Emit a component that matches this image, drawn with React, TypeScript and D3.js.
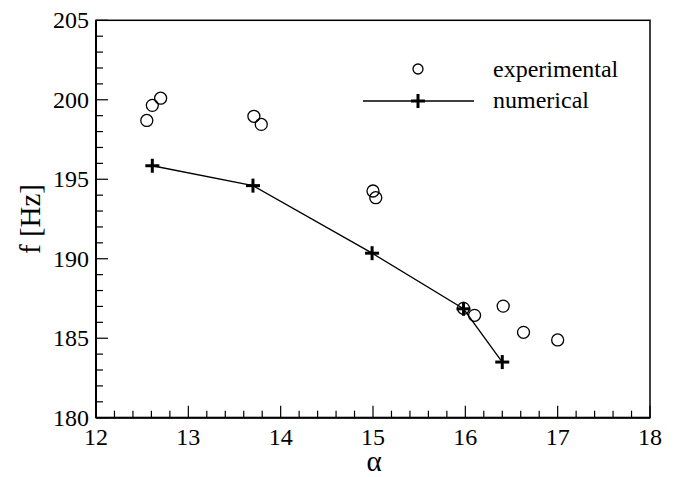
import React from "react";
import * as d3 from "d3";

const expAlpha = [12.55, 12.61, 12.70, 13.71, 13.79, 15.00, 15.03, 15.98, 16.10, 16.41, 16.63, 17.00];
const expF = [198.7, 199.65, 200.1, 198.96, 198.45, 194.26, 193.84, 186.88, 186.44, 187.02, 185.37, 184.89];
const numAlpha = [12.61, 13.70, 14.99, 15.98, 16.40];
const numF = [195.85, 194.6, 190.35, 186.85, 183.5];
const xTicks = [12, 13, 14, 15, 16, 17, 18];
const yTicks = [180, 185, 190, 195, 200, 205];

const FONT = '"Liberation Serif", "DejaVu Serif", "Times New Roman", Times, serif';

export default function App() {
  const W = 675, H = 477;
  const x = d3.scaleLinear().domain([12, 18]).range([96, 650]);
  const y = d3.scaleLinear().domain([180, 205]).range([417.7, 20.3]);
  const xMinor = d3.range(12, 18.001, 0.2).map((v) => +v.toFixed(2));
  const yMinor = d3.range(180, 205.001, 1);
  const line = d3.line<number>().x((_, i) => x(numAlpha[i])).y((d) => y(d));
  const ts = { fontFamily: FONT, fill: "#000" } as React.CSSProperties;

  const cross = (cx: number, cy: number, k: string) => (
    <g key={k}>
      <line x1={cx - 7} x2={cx + 7} y1={cy} y2={cy} stroke="#000" strokeWidth={3} />
      <line x1={cx} x2={cx} y1={cy - 7} y2={cy + 7} stroke="#000" strokeWidth={3} />
    </g>
  );

  return (
    <svg width={W} height={H} style={{ position: "absolute", left: 0, top: 0 }}>
      <rect width={W} height={H} fill="#fff" />
      <rect x={x(12)} y={y(205)} width={x(18) - x(12)} height={y(180) - y(205)} fill="none" stroke="#000" strokeWidth={1.5} />
      <line x1={x(12)} x2={x(12)} y1={y(205)} y2={y(180)} stroke="#000" strokeWidth={2} />
      <line x1={x(12)} x2={x(18)} y1={y(180)} y2={y(180)} stroke="#000" strokeWidth={2} />
      {xMinor.map((v, i) => {
        const major = Math.abs(v - Math.round(v)) < 1e-6;
        return <line key={"xt" + i} x1={x(v)} x2={x(v)} y1={y(180)} y2={y(180) - (major ? 12 : 7)} stroke="#000" strokeWidth={1.2} />;
      })}
      {yMinor.map((v, i) => {
        const major = v % 5 === 0;
        return <line key={"yt" + i} x1={x(12)} x2={x(12) + (major ? 12 : 7)} y1={y(v)} y2={y(v)} stroke="#000" strokeWidth={1.2} />;
      })}
      {xTicks.map((v) => (
        <text key={"xl" + v} x={x(v)} y={445} textAnchor="middle" style={ts} fontSize={24}>{v}</text>
      ))}
      {yTicks.map((v) => (
        <text key={"yl" + v} x={89} y={y(v) + 8} textAnchor="end" style={ts} fontSize={24}>{v}</text>
      ))}
      <text x={374} y={471} textAnchor="middle" style={ts} fontSize={29}>α</text>
      <text transform="translate(40,219) rotate(-90)" textAnchor="middle" style={ts} fontSize={29}>f [Hz]</text>
      <path d={line(numF) || ""} fill="none" stroke="#000" strokeWidth={1.3} />
      {numAlpha.map((a, i) => cross(x(a), y(numF[i]), "n" + i))}
      {expAlpha.map((a, i) => (
        <circle key={"e" + i} cx={x(a)} cy={y(expF[i])} r={6} fill="none" stroke="#000" strokeWidth={1.3} />
      ))}
      <circle cx={418} cy={69} r={5} fill="none" stroke="#000" strokeWidth={1.3} />
      <text x={493} y={77} style={ts} fontSize={24}>experimental</text>
      <line x1={363} x2={474} y1={101} y2={101} stroke="#000" strokeWidth={1.3} />
      {cross(418, 101, "leg")}
      <text x={493} y={108} style={ts} fontSize={24}>numerical</text>
    </svg>
  );
}
